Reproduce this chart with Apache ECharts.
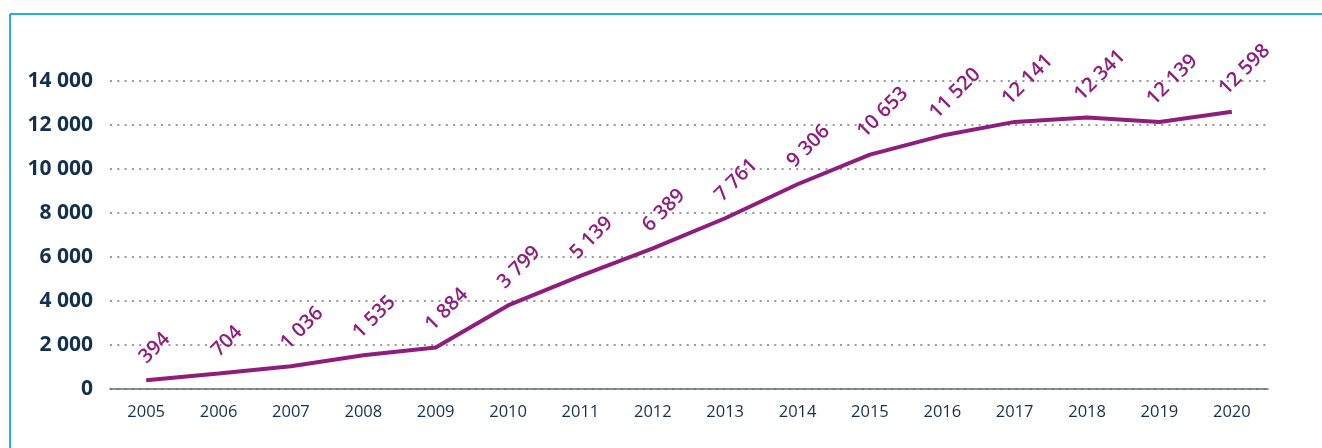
<!DOCTYPE html>
<html lang="en">
<head>
<meta charset="UTF-8">
<title>chart</title>
<style>
  html, body { margin: 0; padding: 0; background: #fff; }
  #main { width: 1322px; height: 448px; }
</style>
</head>
<body>
<div id="main"></div>
<script src="https://cdn.jsdelivr.net/npm/echarts@6/dist/echarts.min.js"></script>
<script>
var years = ['2005', '2006', '2007', '2008', '2009', '2010', '2011', '2012',
             '2013', '2014', '2015', '2016', '2017', '2018', '2019', '2020'];
var values = [394, 704, 1036, 1535, 1884, 3799, 5139, 6389,
              7761, 9306, 10653, 11520, 12141, 12341, 12139, 12598];

// "12598" -> "12 598"
function spaced(v) {
    return String(v).replace(/\B(?=(\d{3})+(?!\d))/g, ' ');
}

var purple = '#8f1d7d';
var navy = '#13304f';

var chart = echarts.init(document.getElementById('main'));

var option = {
    animation: false,
    textStyle: { fontFamily: 'Open Sans' },
    graphic: [
        { type: 'line', shape: { x1: 10, y1: 14, x2: 1322, y2: 14 }, style: { stroke: '#2aabe2', lineWidth: 2 } },
        { type: 'line', shape: { x1: 10, y1: 14, x2: 10, y2: 448 }, style: { stroke: '#2aabe2', lineWidth: 2 } }
    ],
    grid: {
        left: 110,
        right: 54,
        top: 81,
        bottom: 59
    },
    xAxis: {
        type: 'category',
        data: years,
        axisLine: { show: true, lineStyle: { color: '#5c6b80', width: 1.5 } },
        axisTick: { show: false },
        axisLabel: { color: navy, fontSize: 16.5, margin: 15 }
    },
    yAxis: {
        type: 'value',
        min: 0,
        max: 14000,
        interval: 2000,
        axisLine: { show: false },
        axisTick: { show: false },
        axisLabel: {
            color: navy,
            fontSize: 21,
            fontWeight: 'bold',
            margin: 17,
            formatter: function (v) { return spaced(v); }
        },
        splitLine: {
            show: true,
            lineStyle: { color: '#999', width: 2, type: [2, 5.3] }
        }
    },
    series: [{
        type: 'line',
        data: values,
        symbol: 'circle',
        symbolSize: 1,
        showSymbol: true,
        itemStyle: { color: 'rgba(0,0,0,0)' },
        lineStyle: { color: purple, width: 4 },
        label: {
            show: true,
            position: 'top',
            rotate: 45,
            align: 'center',
            verticalAlign: 'middle',
            color: purple,
            fontSize: 20,
            fontWeight: 600,
            formatter: function (p) { return spaced(p.value); }
        },
        // rotated box sits centred a little above its point, as in the source
        labelLayout: function (p) {
            var cx = p.rect.x + p.rect.width / 2;
            var cy = p.rect.y + p.rect.height / 2;
            var h = p.labelRect.height;
            return { x: cx + 0.22 * h, y: cy - 13 - h / 2 };
        }
    }]
};

chart.setOption(option);
</script>
</body>
</html>
